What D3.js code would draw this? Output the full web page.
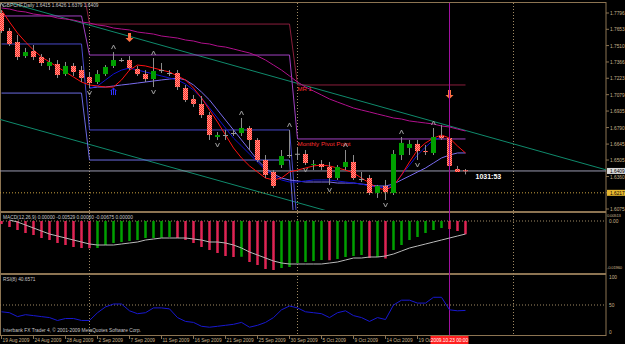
<!DOCTYPE html>
<html>
<head>
<meta charset="utf-8">
<script src="https://cdn.jsdelivr.net/npm/d3@7"></script>
<style>
  body { margin: 0; background: #000; }
  svg { display: block; font-family: "Liberation Sans", "DejaVu Sans", sans-serif; }
</style>
</head>
<body>
<svg id="chart" width="625" height="344"></svg>
<script>
// GBPCHF daily bars, 19 Aug 2009 .. 26 Oct 2009 (MT4 shows sunday bars too)
let opens  = [1.7796,1.7638,1.7541,1.7418,1.7462,1.7410,1.7331,1.7348,1.7260,1.7331,1.7295,1.7234,1.7190,1.7260,1.7331,1.7383,1.7383,1.7304,1.7260,1.7216,1.7295,1.7269,1.7269,1.7137,1.7041,1.6997,1.6900,1.6707,1.6725,1.6742,1.6742,1.6786,1.6681,1.6505,1.6400,1.6461,1.6549,1.6558,1.6558,1.6461,1.6470,1.6444,1.6347,1.6444,1.6488,1.6338,1.6347,1.6216,1.6277,1.6216,1.6549,1.6611,1.6646,1.6584,1.6567,1.6716,1.6698,1.6426,1.6415];
let highs  = [1.7822,1.7664,1.7603,1.7489,1.7515,1.7436,1.7401,1.7383,1.7366,1.7357,1.7331,1.7278,1.7295,1.7339,1.7453,1.7401,1.7418,1.7331,1.7295,1.7401,1.7357,1.7295,1.7295,1.7164,1.7076,1.7067,1.6927,1.6751,1.6769,1.6769,1.6874,1.6804,1.6698,1.6549,1.6417,1.6593,1.6769,1.6611,1.6593,1.6505,1.6505,1.6488,1.6461,1.6593,1.6549,1.6400,1.6374,1.6286,1.6330,1.6593,1.6707,1.6681,1.6681,1.6637,1.6786,1.6813,1.6769,1.6453,1.6426];
let lows   = [1.7620,1.7506,1.7383,1.7401,1.7383,1.7331,1.7295,1.7225,1.7243,1.7243,1.7190,1.7137,1.7172,1.7243,1.7313,1.7366,1.7295,1.7243,1.7190,1.7146,1.7269,1.7243,1.7120,1.7014,1.6971,1.6874,1.6681,1.6681,1.6681,1.6716,1.6716,1.6593,1.6488,1.6347,1.6259,1.6435,1.6523,1.6505,1.6461,1.6417,1.6417,1.6286,1.6330,1.6417,1.6330,1.6312,1.6198,1.6172,1.6154,1.6198,1.6505,1.6549,1.6505,1.6549,1.6549,1.6681,1.6435,1.6400,1.6379];
let closes = [1.7638,1.7524,1.7410,1.7453,1.7410,1.7357,1.7366,1.7252,1.7331,1.7278,1.7225,1.7181,1.7260,1.7322,1.7383,1.7381,1.7313,1.7260,1.7216,1.7287,1.7293,1.7267,1.7146,1.7032,1.6997,1.6900,1.6725,1.6725,1.6723,1.6740,1.6786,1.6681,1.6505,1.6374,1.6277,1.6540,1.6547,1.6560,1.6479,1.6470,1.6444,1.6347,1.6444,1.6488,1.6347,1.6336,1.6216,1.6277,1.6224,1.6558,1.6655,1.6646,1.6584,1.6575,1.6707,1.6698,1.6453,1.6400,1.6409];

// moving averages on the main chart
let maRed = [1.7822,1.7717,1.7620,1.7541,1.7471,1.7410,1.7366,1.7322,1.7278,1.7234,1.7190,1.7164,1.7155,1.7146,1.7146,1.7208,1.7295,1.7339,1.7331,1.7313,1.7295,1.7278,1.7243,1.7208,1.7137,1.7050,1.6944,1.6839,1.6725,1.6611,1.6523,1.6453,1.6400,1.6347,1.6330,1.6347,1.6400,1.6417,1.6435,1.6453,1.6461,1.6453,1.6435,1.6417,1.6391,1.6347,1.6303,1.6259,1.6242,1.6277,1.6374,1.6488,1.6593,1.6655,1.6698,1.6725,1.6698,1.6628,1.6567];
let maBlue = [null,null,null,null,null,null,null,null,null,null,null,1.7137,1.7155,1.7208,1.7260,1.7295,1.7313,1.7295,1.7278,1.7260,1.7243,1.7225,1.7208,1.7172,1.7120,1.7050,1.6962,1.6874,1.6786,1.6698,1.6628,1.6558,1.6488,1.6417,1.6365,1.6330,1.6312,1.6312,1.6321,1.6330,1.6330,1.6330,1.6321,1.6312,1.6303,1.6294,1.6277,1.6268,1.6259,1.6277,1.6374,1.6461,1.6549,1.6619,1.6681,1.6707,null,null,null];
let maLilac = [null,null,null,null,null,null,null,null,null,null,null,1.7137,1.7146,1.7146,1.7155,1.7164,1.7172,1.7181,1.7190,1.7199,1.7208,1.7216,1.7225,1.7208,1.7164,1.7102,1.7032,1.6944,1.6856,1.6769,1.6681,1.6593,1.6505,1.6435,1.6382,1.6347,1.6330,1.6321,1.6312,1.6312,1.6312,1.6312,1.6303,1.6303,1.6303,1.6294,1.6286,1.6277,1.6277,1.6294,1.6330,1.6365,1.6400,1.6435,1.6479,1.6523,1.6549,1.6567,1.6567];
let maSlow = [1.7840,1.7831,1.7813,1.7805,1.7787,1.7778,1.7770,1.7752,1.7743,1.7734,1.7717,1.7708,1.7691,1.7682,1.7664,1.7655,1.7647,1.7629,1.7620,1.7611,1.7594,1.7585,1.7576,1.7559,1.7550,1.7532,1.7524,1.7506,1.7497,1.7480,1.7462,1.7445,1.7418,1.7383,1.7339,1.7295,1.7243,1.7190,1.7146,1.7111,1.7076,1.7041,1.7014,1.6988,1.6962,1.6944,1.6927,1.6909,1.6892,1.6874,1.6865,1.6848,1.6839,1.6830,1.6821,1.6804,1.6795,1.6777,1.6760];

// monthly pivot levels: Aug, Sep, Oct (first bar of each month)
let monthStart = [0, 11, 37];
let pivotP  = [1.7770, 1.7427, 1.6690];
let pivotR1 = [1.8100, 1.7699, 1.7164];
let pivotS1 = [1.7524, 1.6769, 1.5900];
let pivotS2 = [1.7093, 1.6505, 1.5500];

// channel lines: [bar, price] anchors
let channelTop = [[0, 1.7906], [56, 1.6804]];
let channelLow = [[0, 1.6858], [40, 1.6072]];

// fractal marks (bar indices) and signal arrows [bar, price at arrow top]
let fractalUp = [0, 14, 19, 30, 36, 43, 50, 54];
let fractalDown = [11, 19, 27, 38, 41, 48, 52];
let sellArrows = [[16, 1.7620], [56, 1.7120]];
let buyArrows = [[14, 1.7137]];

// MACD histogram and signal
let macdHist = [-0.0012,-0.0024,-0.0036,-0.0048,-0.0056,-0.0068,-0.0076,-0.0088,-0.0096,-0.0104,-0.0108,-0.0109,-0.0108,-0.0096,-0.0088,-0.0084,-0.0080,-0.0076,-0.0068,-0.0068,-0.0067,-0.0064,-0.0068,-0.0076,-0.0088,-0.0104,-0.0116,-0.0128,-0.0140,-0.0144,-0.0143,-0.0164,-0.0176,-0.0192,-0.0196,-0.0188,-0.0184,-0.0168,-0.0164,-0.0160,-0.0156,-0.0157,-0.0152,-0.0144,-0.0140,-0.0136,-0.0148,-0.0144,-0.0150,-0.0116,-0.0096,-0.0076,-0.0064,-0.0048,-0.0036,-0.0028,-0.0032,-0.0040,-0.0053];
let macdSignal = [null,0.0008,-0.0004,-0.0016,-0.0028,-0.0040,-0.0052,-0.0060,-0.0068,-0.0076,-0.0084,-0.0092,-0.0096,-0.0096,-0.0096,-0.0092,-0.0088,-0.0084,-0.0076,-0.0072,-0.0068,-0.0068,-0.0068,-0.0068,-0.0072,-0.0076,-0.0084,-0.0084,-0.0088,-0.0096,-0.0108,-0.0124,-0.0136,-0.0148,-0.0160,-0.0168,-0.0172,-0.0172,-0.0172,-0.0172,-0.0172,-0.0168,-0.0164,-0.0156,-0.0148,-0.0148,-0.0144,-0.0144,-0.0140,-0.0132,-0.0120,-0.0108,-0.0100,-0.0092,-0.0084,-0.0076,-0.0068,-0.0060,-0.0052];

// RSI(8)
let rsi = [38.3,36.7,30.0,33.3,31.7,30.0,28.3,23.3,26.7,26.7,23.3,23.3,36.7,46.7,51.7,51.7,40.0,35.0,36.7,45.0,45.0,43.3,28.3,21.7,20.0,13.3,11.7,13.3,15.0,16.7,20.0,11.7,15.0,20.0,28.3,41.7,48.3,45.0,38.3,36.7,35.0,28.3,36.7,40.0,31.7,28.3,21.7,28.3,25.0,50.0,58.3,58.3,53.3,53.3,63.3,63.3,41.7,40.0,40.7];

// axis labels
let priceTicks = [1.7796,1.7653,1.7510,1.7366,1.7223,1.7079,1.6935,1.6790,1.6645,1.6505,1.6360,1.6217,1.6075];
let dateLabels = ["19 Aug 2009","24 Aug 2009","28 Aug 2009","2 Sep 2009","7 Sep 2009","11 Sep 2009","16 Sep 2009","21 Sep 2009","25 Sep 2009","30 Sep 2009","5 Oct 2009","9 Oct 2009","14 Oct 2009","19 Oct 2009"];
let separators = [11, 37, 64];
let markerBar = 56;
let bid = 1.6409, lineLevel = 1.6217;

let svg = d3.select("svg#chart");
let right = 606;
let axisCol = "#8c7452", textCol = "#c8b48c", fs = 4.8;

let x = d3.scaleLinear().domain([0, 58]).range([1.5, 465.5]);
let y = d3.scaleLinear().domain([1.6075, 1.7796]).range([209, 13]);
let my = d3.scaleLinear().domain([-0.0196, 0, 0.00513]).range([270, 221, 215]);
let ry = d3.scaleLinear().domain([0, 100]).range([334, 276]);

let defs = svg.append("defs");
function checker(id, base, dot) {
  let p = defs.append("pattern").attr("id", id).attr("width", 2).attr("height", 2).attr("patternUnits", "userSpaceOnUse");
  p.append("rect").attr("width", 2).attr("height", 2).attr("fill", base);
  p.append("rect").attr("width", 1).attr("height", 1).attr("fill", dot);
  p.append("rect").attr("x", 1).attr("y", 1).attr("width", 1).attr("height", 1).attr("fill", dot);
}
checker("hatch", "#ff9a88", "#ff2a2a");
checker("mhatch", "#c02878", "#ff2030");
defs.append("clipPath").attr("id", "mainClip").append("rect").attr("x", 0).attr("y", 3).attr("width", right).attr("height", 207);
defs.append("clipPath").attr("id", "macdClip").append("rect").attr("x", 0).attr("y", 213).attr("width", right).attr("height", 59);
defs.append("clipPath").attr("id", "rsiClip").append("rect").attr("x", 0).attr("y", 275).attr("width", right).attr("height", 60);

svg.append("rect").attr("width", 625).attr("height", 344).attr("fill", "#000");

// frame and panel separators
svg.append("rect").attr("x", 0.5).attr("y", 2.5).attr("width", right - 0.5).attr("height", 333)
  .attr("fill", "none").attr("stroke", axisCol);
svg.selectAll("rect.sep").data([211, 273]).join("rect").attr("class", "sep")
  .attr("x", 0).attr("y", d => d).attr("width", right).attr("height", 2).attr("fill", axisCol);

// period separators
svg.selectAll("line.period").data(separators).join("line").attr("class", "period")
  .attr("x1", d => x(d)).attr("x2", d => x(d)).attr("y1", 3).attr("y2", 335)
  .attr("stroke", "#a08a64").attr("stroke-dasharray", "1,2");

let main = svg.append("g").attr("clip-path", "url(#mainClip)");

// channel
let chan = d3.line().x(d => x(d[0])).y(d => y(d[1]));
function extend(a) {
  let s = (a[1][1] - a[0][1]) / (a[1][0] - a[0][0]);
  return [[-2, a[0][1] - 2 * s], [80, a[0][1] + 80 * s]];
}
main.selectAll("path.chan").data([channelTop, channelLow]).join("path").attr("class", "chan")
  .attr("d", d => chan(extend(d))).attr("stroke", "#0f8a6c").attr("fill", "none");

// monthly pivot step lines
function pivotPoints(levels) {
  let pts = [];
  monthStart.forEach((s, k) => {
    let e = k < monthStart.length - 1 ? monthStart[k + 1] - 1 : 58;
    pts.push([s, levels[k]], [e, levels[k]]);
  });
  return pts;
}
let pivLine = d3.line().x(d => x(d[0])).y(d => y(d[1]));
[[pivotR1, "#8b1e3c"], [pivotP, "#a040c0"], [pivotS1, "#4848c8"], [pivotS2, "#6a6ae0"]].forEach(p => {
  main.append("path").attr("d", pivLine(pivotPoints(p[0]))).attr("stroke", p[1]).attr("fill", "none");
});
main.append("text").attr("x", x(37)).attr("y", y(pivotR1[2]) + 6).text("MR 1")
  .attr("fill", "#ff3030").attr("font-size", 6);
main.append("text").attr("x", x(37)).attr("y", y(pivotP[2]) + 7).text("Monthly Pivot Point")
  .attr("fill", "#ff3030").attr("font-size", 6.2);

// bid and level lines
main.append("line").attr("x1", 0).attr("x2", right).attr("y1", y(bid)).attr("y2", y(bid)).attr("stroke", "#9a9ab0");
main.append("line").attr("x1", 0).attr("x2", right).attr("y1", y(lineLevel)).attr("y2", y(lineLevel))
  .attr("stroke", "#c8a040").attr("stroke-dasharray", "1,2");

// moving averages
let ma = d3.line().defined(d => d != null).x((d, i) => x(i)).y(d => y(d));
[[maSlow, "#b0108c"], [maLilac, "#7a6cf0"], [maBlue, "#1010d0"], [maRed, "#ff1010"]].forEach(m => {
  main.append("path").attr("d", ma(m[0])).attr("stroke", m[1]).attr("fill", "none").attr("stroke-width", 1);
});

// candles
let bars = d3.range(opens.length);
main.selectAll("line.wick").data(bars).join("line").attr("class", "wick")
  .attr("x1", i => x(i)).attr("x2", i => x(i))
  .attr("y1", i => y(highs[i])).attr("y2", i => y(lows[i]))
  .attr("stroke", "#8c8c8c");
main.selectAll("rect.body").data(bars).join("rect").attr("class", "body")
  .attr("x", i => x(i) - 2.5).attr("width", 5)
  .attr("y", i => y(Math.max(opens[i], closes[i])))
  .attr("height", i => Math.max(1, Math.abs(y(opens[i]) - y(closes[i]))))
  .attr("fill", i => Math.abs(opens[i] - closes[i]) < 0.0004 ? "#9a9a9a" : closes[i] > opens[i] ? "#00a000" : "url(#hatch)");

// fractals
main.selectAll("path.fup").data(fractalUp).join("path").attr("class", "fup")
  .attr("d", i => `M${x(i) - 2},${y(highs[i]) - 3}L${x(i)},${y(highs[i]) - 7}L${x(i) + 2},${y(highs[i]) - 3}`)
  .attr("stroke", "#a0a0a0").attr("fill", "none");
main.selectAll("path.fdn").data(fractalDown).join("path").attr("class", "fdn")
  .attr("d", i => `M${x(i) - 2},${y(lows[i]) + 3}L${x(i)},${y(lows[i]) + 7}L${x(i) + 2},${y(lows[i]) + 3}`)
  .attr("stroke", "#a0a0a0").attr("fill", "none");

// signal arrows
main.selectAll("path.sell").data(sellArrows).join("path").attr("class", "sell")
  .attr("d", d => { let cx = x(d[0]), t = y(d[1]); return `M${cx - 1.5},${t}h3v5h2.5l-4,4l-4,-4h2.5z`; })
  .attr("fill", "#ff7044");
main.selectAll("path.buy").data(buyArrows).join("path").attr("class", "buy")
  .attr("d", d => { let cx = x(d[0]), t = y(d[1]); return `M${cx},${t}l-3,3M${cx},${t}l3,3M${cx},${t}v7M${cx - 2},${t + 2}v5M${cx + 2},${t + 2}v5`; })
  .attr("stroke", "#3030ff").attr("fill", "none");

// magenta vertical line
svg.append("line").attr("x1", x(markerBar)).attr("x2", x(markerBar)).attr("y1", 3).attr("y2", 335)
  .attr("stroke", "#a010a0");

// title and countdown
svg.append("text").attr("x", 3).attr("y", 7).attr("font-size", fs).attr("fill", "#c8c8c8")
  .text("GBPCHF,Daily  1.6415 1.6426 1.6379 1.6409");
svg.append("text").attr("x", x(58) + 10).attr("y", y(bid) + 8).attr("font-size", 7).attr("font-weight", "bold")
  .attr("fill", "#ffffff").text("1031:53");

// MACD panel
let macd = svg.append("g").attr("clip-path", "url(#macdClip)");
macd.append("line").attr("x1", 0).attr("x2", right).attr("y1", my(0)).attr("y2", my(0))
  .attr("stroke", "#a08a64").attr("stroke-dasharray", "1,2");
macd.selectAll("rect.hist").data(macdHist).join("rect").attr("class", "hist")
  .attr("x", (d, i) => x(i) - 1.25).attr("width", 2.5)
  .attr("y", d => my(Math.max(0, d))).attr("height", d => Math.abs(my(d) - my(0)))
  .attr("fill", (d, i) => i > 0 && d >= macdHist[i - 1] ? "#00a000" : "url(#mhatch)");
macd.append("path").attr("d", d3.line().defined(d => d != null).x((d, i) => x(i)).y(d => my(d))(macdSignal))
  .attr("stroke", "#b8b8b8").attr("fill", "none");
svg.append("text").attr("x", 3).attr("y", 219).attr("font-size", fs).attr("fill", "#c8c8c8")
  .text("MACD(12,26,9) 0.00000 -0.00529 0.00000 -0.00675 0.00000");

// RSI panel
let rsiG = svg.append("g").attr("clip-path", "url(#rsiClip)");
rsiG.append("line").attr("x1", 0).attr("x2", right).attr("y1", ry(50)).attr("y2", ry(50))
  .attr("stroke", "#a08a64").attr("stroke-dasharray", "1,2");
rsiG.append("path").attr("d", d3.line().x((d, i) => x(i)).y(d => ry(d))(rsi))
  .attr("stroke", "#1818d0").attr("fill", "none");
svg.append("text").attr("x", 3).attr("y", 281).attr("font-size", fs).attr("fill", "#c8c8c8").text("RSI(8) 40.6571");
svg.append("text").attr("x", 3).attr("y", 332).attr("font-size", fs).attr("fill", "#c8c8c8")
  .text("Interbank FX Trader 4, \u00a9 2001-2009 MetaQuotes Software Corp.");

// right axes
let priceAxis = svg.append("g");
priceAxis.selectAll("line").data(priceTicks).join("line")
  .attr("x1", right).attr("x2", right + 3).attr("y1", d => y(d)).attr("y2", d => y(d)).attr("stroke", axisCol);
priceAxis.selectAll("text").data(priceTicks).join("text")
  .attr("x", right + 4).attr("y", d => y(d) + 2).attr("font-size", fs).attr("fill", textCol).text(d => d.toFixed(4));

function axisBox(v, bg) {
  svg.append("rect").attr("x", right + 1).attr("y", y(v) - 3).attr("width", 18).attr("height", 6).attr("fill", bg);
  svg.append("text").attr("x", right + 4).attr("y", y(v) + 2).attr("font-size", fs).attr("fill", "#000").text(v.toFixed(4));
}
axisBox(bid, "#d8d8d8");
axisBox(lineLevel, "#e8b830");

let sideLabels = [[my(0.00513) + 2, "0.00513"], [my(0) + 2, "0.00"], [my(-0.0196) - 1, "-0.01960"], [ry(100) + 3, "100"], [ry(50) + 2, "50"], [ry(0), "0"]];
svg.selectAll("text.side").data(sideLabels).join("text").attr("class", "side")
  .attr("x", right + 3).attr("y", d => d[0]).attr("font-size", fs).attr("fill", textCol).text(d => d[1])
  .each(function(d) {
    if (d[1].length > 6) d3.select(this).attr("x", right + 1).attr("font-size", 4.2).attr("letter-spacing", -0.2);
  });

// time axis
let dateIdx = dateLabels.map((d, k) => k * 4);
svg.selectAll("line.dtick").data(dateIdx).join("line").attr("class", "dtick")
  .attr("x1", i => x(i)).attr("x2", i => x(i)).attr("y1", 335).attr("y2", 339).attr("stroke", axisCol);
svg.selectAll("text.date").data(dateLabels).join("text").attr("class", "date")
  .attr("x", (d, k) => x(dateIdx[k]) + 1).attr("y", 342).attr("font-size", fs).attr("fill", textCol).text(d => d)
  .each(function(d, k) { if (k == dateLabels.length - 1) d3.select(this).text("19 Oc"); });

svg.append("rect").attr("x", x(markerBar) - 19).attr("y", 336).attr("width", 38).attr("height", 8).attr("fill", "#ff2020");
svg.append("text").attr("x", x(markerBar)).attr("y", 342).attr("text-anchor", "middle").attr("font-size", fs)
  .attr("fill", "#fff").text("2009.10.23 00:00");
</script>
</body>
</html>
